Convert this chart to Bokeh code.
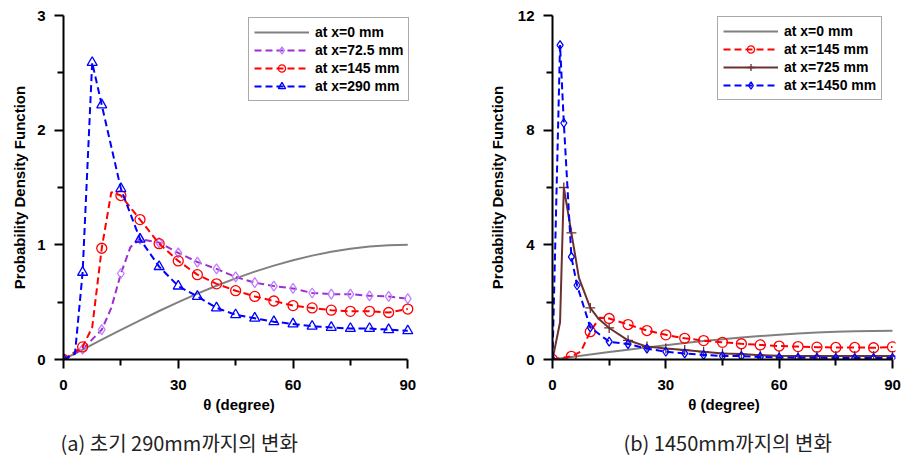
from bokeh.plotting import figure
from bokeh.models import Range1d, FixedTicker, Legend, LegendItem, Title
from bokeh.layouts import row
from bokeh.embed import file_html
from bokeh.resources import INLINE

# ---------------- data ----------------
theta_base = [0, 5, 10, 15, 20, 25, 30, 35, 40, 45, 50, 55, 60, 65, 70, 75, 80, 85, 90]
pdf_x0 = [0, 0.087, 0.174, 0.259, 0.342, 0.423, 0.5, 0.574, 0.643, 0.707, 0.766,
          0.819, 0.866, 0.906, 0.94, 0.966, 0.985, 0.996, 1.0]

theta_72 = [0, 5, 10, 12.5, 15, 17.5, 20, 25, 30, 35, 40, 45, 50, 55, 60, 65, 70, 75, 80, 85, 90]
pdf_72 = [0, 0.09, 0.26, 0.45, 0.75, 0.98, 1.05, 1.02, 0.93, 0.85, 0.79, 0.72, 0.67,
          0.64, 0.62, 0.58, 0.57, 0.57, 0.555, 0.55, 0.53]
unmarked_72 = [12.5, 17.5]

theta_145 = [0, 5, 7.5, 10, 12.5, 15, 20, 25, 30, 35, 40, 45, 50, 55, 60, 65, 70, 75, 80, 85, 90]
pdf_145 = [0, 0.11, 0.28, 0.97, 1.46, 1.43, 1.22, 1.01, 0.86, 0.74, 0.66, 0.6, 0.55,
           0.51, 0.47, 0.45, 0.43, 0.42, 0.42, 0.41, 0.44]
unmarked_145 = [7.5, 12.5]

theta_290 = [0, 3, 5, 7.5, 10, 15, 20, 25, 30, 35, 40, 45, 50, 55, 60, 65, 70, 75, 80, 85, 90]
pdf_290 = [0, 0.05, 0.76, 2.59, 2.22, 1.49, 1.05, 0.81, 0.64, 0.55, 0.45, 0.39, 0.36,
           0.33, 0.31, 0.29, 0.28, 0.27, 0.27, 0.26, 0.25]
unmarked_290 = [3]

theta_725 = [0, 2, 3, 5, 7, 10, 12, 15, 20, 25, 30, 35, 40, 45, 50, 55, 60, 65, 70, 75, 80, 85, 90]
pdf_725 = [0, 1.3, 6.0, 4.42, 2.85, 1.8, 1.45, 1.1, 0.67, 0.45, 0.38, 0.33, 0.27, 0.21,
           0.19, 0.15, 0.13, 0.12, 0.12, 0.12, 0.12, 0.12, 0.12]
unmarked_725 = [2, 7, 12]

theta_1450 = [0, 2, 3, 5, 6.5, 10, 15, 20, 25, 30, 35, 40, 45, 50, 55, 60, 65, 70, 75, 80, 85, 90]
pdf_1450 = [0, 10.97, 8.25, 3.58, 2.59, 1.12, 0.62, 0.54, 0.38, 0.27, 0.21, 0.16, 0.12,
            0.12, 0.09, 0.07, 0.06, 0.06, 0.05, 0.05, 0.05, 0.05]
unmarked_1450 = []

x_ticks = [0, 30, 60, 90]
x_minor = [15, 45, 75]
y_ticks_a = [0, 1, 2, 3]
y_minor_a = [0.5, 1.5, 2.5]
y_ticks_b = [0, 4, 8, 12]
y_minor_b = [2, 6, 10]

FONT = "Liberation Sans"


def marked(theta, pdf, skip):
    xs = [t for t in theta if t not in skip]
    ys = [v for t, v in zip(theta, pdf) if t not in skip]
    return xs, ys


def make_fig(xr, yr, fw, fh, mbl, mbr, mbt, mbb, yt, ym, ybounds, ylab_standoff):
    p = figure(frame_width=fw, frame_height=fh, x_range=Range1d(*xr), y_range=Range1d(*yr),
               output_backend="svg", toolbar_location=None,
               min_border_left=mbl, min_border_right=mbr, min_border_top=mbt,
               min_border_bottom=mbb)
    p.outline_line_color = None
    p.xgrid.visible = False
    p.ygrid.visible = False
    p.background_fill_color = "white"
    p.xaxis.bounds = (0, 90)
    p.yaxis.bounds = ybounds
    p.xaxis.ticker = FixedTicker(ticks=x_ticks, minor_ticks=x_minor)
    p.yaxis.ticker = FixedTicker(ticks=yt, minor_ticks=ym)
    for ax in (p.xaxis, p.yaxis):
        ax.axis_line_width = 2
        ax.axis_line_color = "black"
        ax.major_tick_line_width = 2
        ax.minor_tick_line_width = 2
        ax.major_tick_in = 0
        ax.major_tick_out = 9
        ax.minor_tick_in = 0
        ax.minor_tick_out = 6
        ax.major_label_text_font = FONT
        ax.major_label_text_font_style = "bold"
        ax.major_label_text_font_size = "15px"
        ax.major_label_text_color = "black"
        ax.axis_label_text_font = FONT
        ax.axis_label_text_font_style = "bold"
        ax.axis_label_text_font_size = "15px"
        ax.axis_label_text_color = "black"
    p.xaxis.axis_label = "θ (degree)"
    p.yaxis.axis_label = "Probability Density Function"
    p.xaxis.major_label_standoff = 11
    p.xaxis.axis_label_standoff = 3
    p.yaxis.major_label_standoff = 9
    p.yaxis.axis_label_standoff = ylab_standoff
    return p


def add_series(p, theta, pdf, skip, color, dash, marker, mcolor, msize):
    r_line = p.line(theta, pdf, line_color=color, line_width=2, line_dash=dash)
    rends = [r_line]
    if marker is not None:
        mx, my = marked(theta, pdf, skip)
        r_m = p.scatter(mx, my, marker=marker, size=msize, fill_color=None,
                        line_color=mcolor, line_width=1.3)
        rends.append(r_m)
    return rends


def make_legend(items, loc):
    return Legend(items=items, location=loc, margin=0, padding=5, spacing=0,
                  label_height=18, glyph_height=18, glyph_width=55, label_standoff=6,
                  label_text_font=FONT, label_text_font_style="bold",
                  label_text_font_size="14px", label_text_color="black",
                  border_line_color="#555555", border_line_width=1.5,
                  background_fill_color="white", background_fill_alpha=1.0)


GRAY = "#808080"
PURPLE = "#9b30d0"
PURPLE_M = "#c080ff"
RED = "#ff0000"
BLUE = "#0000ff"
BROWN = "#6b3030"
DASH = "7 4"

# ---------------- (a) ----------------
pa = make_fig((0, 91.76), (0, 3.0), 351, 344, 63, 66, 15, 99,
              y_ticks_a, y_minor_a, (0, 3), 6)
ga = add_series(pa, theta_base, pdf_x0, [], GRAY, "solid", None, None, 0)
pu = add_series(pa, theta_72, pdf_72, unmarked_72, PURPLE, DASH, "diamond", PURPLE_M, 10)
rd = add_series(pa, theta_145, pdf_145, unmarked_145, RED, DASH, "circle", RED, 10)
bl = add_series(pa, theta_290, pdf_290, unmarked_290, BLUE, DASH, "triangle", BLUE, 10)
pa.add_layout(make_legend([
    LegendItem(label="at x=0 mm", renderers=ga),
    LegendItem(label="at x=72.5 mm", renderers=pu),
    LegendItem(label="at x=145 mm", renderers=rd),
    LegendItem(label="at x=290 mm", renderers=bl),
], (185, 258)))
pa.add_layout(Title(text="(a) 초기 290mm까지의 변화", align="left", offset=-3,
                    text_font="Noto Sans CJK KR", text_font_style="normal",
                    text_font_size="20px", text_color="#222222", standoff=21), "below")

# ---------------- (b) ----------------
pb = make_fig((0, 90.8), (0, 12.0), 343, 344, 72, 8, 15, 99,
              y_ticks_b, y_minor_b, (0, 12), 9)
gb = add_series(pb, theta_base, pdf_x0, [], GRAY, "solid", None, None, 0)
rb = add_series(pb, theta_145, pdf_145, unmarked_145, RED, DASH, "circle", RED, 10)
br = add_series(pb, theta_725, pdf_725, unmarked_725, BROWN, "solid", "cross", BROWN, 10)
bb = add_series(pb, theta_1450, pdf_1450, unmarked_1450, BLUE, DASH, "diamond", BLUE, 9)
pb.add_layout(make_legend([
    LegendItem(label="at x=0 mm", renderers=gb),
    LegendItem(label="at x=145 mm", renderers=rb),
    LegendItem(label="at x=725 mm", renderers=br),
    LegendItem(label="at x=1450 mm", renderers=bb),
], (165, 259)))
pb.add_layout(Title(text="(b) 1450mm까지의 변화", align="left", offset=71,
                    text_font="Noto Sans CJK KR", text_font_style="normal",
                    text_font_size="20px", text_color="#222222", standoff=21), "below")

layout = row(pa, pb)
open("out.html", "w").write(file_html(layout, INLINE))
